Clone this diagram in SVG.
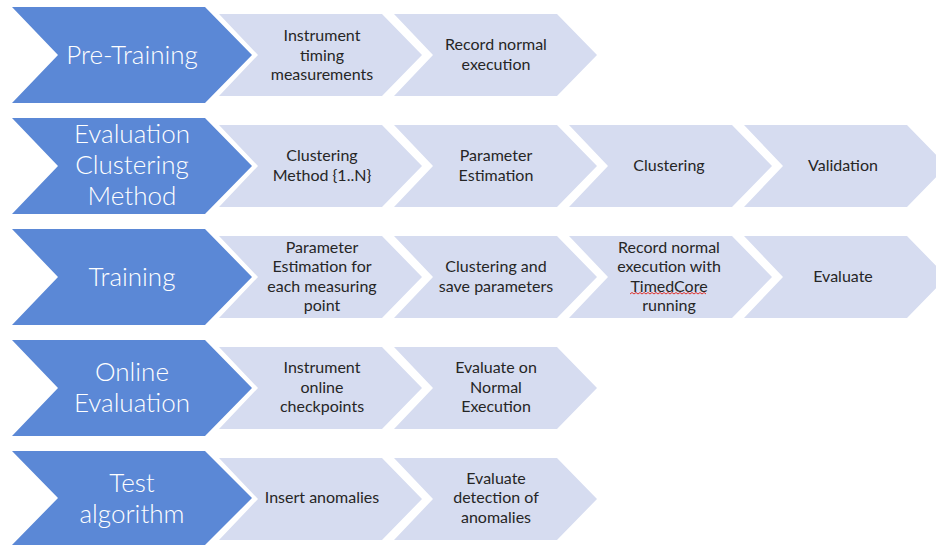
<svg xmlns="http://www.w3.org/2000/svg" width="936" height="545" viewBox="0 0 936 545">
  <style>
    .phase { fill: #5B88D6; }
    .step { fill: #D6DCF0; }
    .ph-text { font-family: Lato, "Open Sans", "Liberation Sans", sans-serif; font-weight: 300; font-size: 26px; fill: #FFFFFF; text-anchor: middle; }
    .st-text { font-family: Lato, "Open Sans", "Liberation Sans", sans-serif; font-size: 16px; fill: #262626; text-anchor: middle; }
    .squiggle { fill: none; stroke: #E0302A; stroke-width: 1; }
  </style>
  <rect width="936" height="545" fill="#FFFFFF"/>

  <!-- Row 1: Pre-Training -->
  <g id="pre-training">
    <polygon class="phase" points="12,7 205,7 252,55 205,103 12,103 58,55"/>
    <text class="ph-text" x="132" y="64">Pre-Training</text>
  </g>
  <g id="instrument-timing">
    <polygon class="step" points="219,14 382,14 422,55 382,96 219,96 258,55"/>
    <text class="st-text" x="322" y="41">Instrument</text>
    <text class="st-text" x="322" y="60.5">timing</text>
    <text class="st-text" x="322" y="80">measurements</text>
  </g>
  <g id="record-normal">
    <polygon class="step" points="394,14 557,14 597,55 557,96 394,96 433,55"/>
    <text class="st-text" x="496" y="50">Record normal</text>
    <text class="st-text" x="496" y="70">execution</text>
  </g>

  <!-- Row 2: Evaluation Clustering Method -->
  <g id="evaluation-clustering-method">
    <polygon class="phase" points="12,118 205,118 252,166 205,214 12,214 58,166"/>
    <text class="ph-text" x="132" y="143">Evaluation</text>
    <text class="ph-text" x="132" y="174">Clustering</text>
    <text class="ph-text" x="132" y="205">Method</text>
  </g>
  <g id="clustering-method">
    <polygon class="step" points="219,125 382,125 422,166 382,207 219,207 258,166"/>
    <text class="st-text" x="322" y="161">Clustering</text>
    <text class="st-text" x="322" y="181">Method {1..N}</text>
  </g>
  <g id="parameter-estimation">
    <polygon class="step" points="394,125 557,125 597,166 557,207 394,207 433,166"/>
    <text class="st-text" x="496" y="161">Parameter</text>
    <text class="st-text" x="496" y="181">Estimation</text>
  </g>
  <g id="clustering">
    <polygon class="step" points="569,125 732,125 772,166 732,207 569,207 608,166"/>
    <text class="st-text" x="669" y="171">Clustering</text>
  </g>
  <g id="validation">
    <polygon class="step" points="744,125 907,125 947,166 907,207 744,207 783,166"/>
    <text class="st-text" x="843" y="171">Validation</text>
  </g>

  <!-- Row 3: Training -->
  <g id="training">
    <polygon class="phase" points="12,229 205,229 252,277 205,325 12,325 58,277"/>
    <text class="ph-text" x="132" y="286">Training</text>
  </g>
  <g id="parameter-estimation-each">
    <polygon class="step" points="219,236 382,236 422,277 382,318 219,318 258,277"/>
    <text class="st-text" x="322" y="253">Parameter</text>
    <text class="st-text" x="322" y="272">Estimation for</text>
    <text class="st-text" x="322" y="292">each measuring</text>
    <text class="st-text" x="322" y="311">point</text>
  </g>
  <g id="clustering-save">
    <polygon class="step" points="394,236 557,236 597,277 557,318 394,318 433,277"/>
    <text class="st-text" x="496" y="272">Clustering and</text>
    <text class="st-text" x="496" y="292">save parameters</text>
  </g>
  <g id="record-timedcore">
    <polygon class="step" points="569,236 732,236 772,277 732,318 569,318 608,277"/>
    <text class="st-text" x="669" y="253">Record normal</text>
    <text class="st-text" x="669" y="272">execution with</text>
    <text class="st-text" x="669" y="292">TimedCore</text>
    <text class="st-text" x="669" y="311">running</text>
    <path class="squiggle" d="M630,294 l2,-1.5 l2,1.5 l2,-1.5 l2,1.5 l2,-1.5 l2,1.5 l2,-1.5 l2,1.5 l2,-1.5 l2,1.5 l2,-1.5 l2,1.5 l2,-1.5 l2,1.5 l2,-1.5 l2,1.5 l2,-1.5 l2,1.5 l2,-1.5 l2,1.5 l2,-1.5 l2,1.5 l2,-1.5 l2,1.5 l2,-1.5 l2,1.5 l2,-1.5 l2,1.5 l2,-1.5 l2,1.5 l2,-1.5 l2,1.5 l2,-1.5 l2,1.5 l2,-1.5 l2,1.5 l2,-1.5 l2,1.5"/>
  </g>
  <g id="evaluate">
    <polygon class="step" points="744,236 907,236 947,277 907,318 744,318 783,277"/>
    <text class="st-text" x="843" y="282">Evaluate</text>
  </g>

  <!-- Row 4: Online Evaluation -->
  <g id="online-evaluation">
    <polygon class="phase" points="12,340 205,340 252,388 205,436 12,436 58,388"/>
    <text class="ph-text" x="132" y="381">Online</text>
    <text class="ph-text" x="132" y="412">Evaluation</text>
  </g>
  <g id="instrument-online">
    <polygon class="step" points="219,347 382,347 422,388 382,429 219,429 258,388"/>
    <text class="st-text" x="322" y="373">Instrument</text>
    <text class="st-text" x="322" y="393">online</text>
    <text class="st-text" x="322" y="412">checkpoints</text>
  </g>
  <g id="evaluate-normal">
    <polygon class="step" points="394,347 557,347 597,388 557,429 394,429 433,388"/>
    <text class="st-text" x="496" y="373">Evaluate on</text>
    <text class="st-text" x="496" y="393">Normal</text>
    <text class="st-text" x="496" y="412">Execution</text>
  </g>

  <!-- Row 5: Test algorithm -->
  <g id="test-algorithm">
    <polygon class="phase" points="12,451 205,451 252,498 205,545 12,545 58,498"/>
    <text class="ph-text" x="132" y="492">Test</text>
    <text class="ph-text" x="132" y="523">algorithm</text>
  </g>
  <g id="insert-anomalies">
    <polygon class="step" points="219,458 382,458 422,499 382,540 219,540 258,499"/>
    <text class="st-text" x="322" y="503">Insert anomalies</text>
  </g>
  <g id="evaluate-detection">
    <polygon class="step" points="394,458 557,458 597,499 557,540 394,540 433,499"/>
    <text class="st-text" x="496" y="484">Evaluate</text>
    <text class="st-text" x="496" y="503">detection of</text>
    <text class="st-text" x="496" y="523">anomalies</text>
  </g>

  <!-- no connectors: steps abut as chevrons -->
  <g id="connectors"/>
</svg>
